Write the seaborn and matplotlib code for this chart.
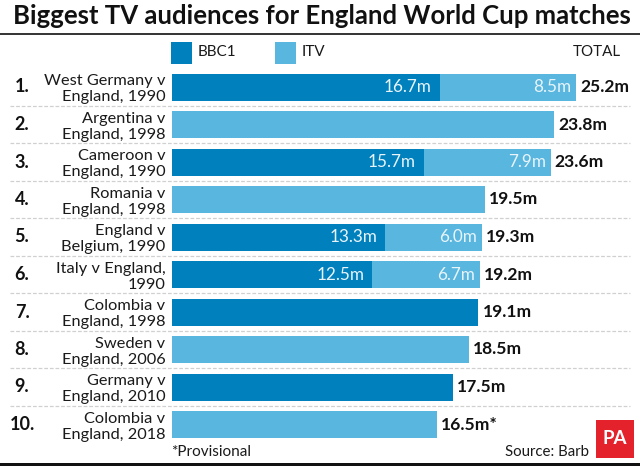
import matplotlib
matplotlib.use('Agg')
import matplotlib.pyplot as plt
import matplotlib.patches as mpatches
import matplotlib.transforms as mtrans
import pandas as pd
import seaborn as sns

matches = ['West Germany v\nEngland, 1990', 'Argentina v\nEngland, 1998',
           'Cameroon v\nEngland, 1990', 'Romania v\nEngland, 1998',
           'England v\nBelgium, 1990', 'Italy v England,\n1990',
           'Colombia v\nEngland, 1998', 'Sweden v\nEngland, 2006',
           'Germany v\nEngland, 2010', 'Colombia v\nEngland, 2018']
bbc1 = [16.7, 0, 15.7, 0, 13.3, 12.5, 19.1, 0, 17.5, 0]
itv = [8.5, 23.8, 7.9, 19.5, 6.0, 6.7, 0, 18.5, 0, 16.5]
totals = [25.2, 23.8, 23.6, 19.5, 19.3, 19.2, 19.1, 18.5, 17.5, 16.5]
total_notes = ['', '', '', '', '', '', '', '', '', '*']

BBC_COL = '#0080bc'
ITV_COL = '#58b6df'
W, H = 640, 466

sns.set_theme(style='white')
plt.rcParams['font.family'] = ['Lato', 'DejaVu Sans']


def fx(px):
    return px / W


def fy(px):
    return 1 - px / H


df = pd.DataFrame({'match': matches, 'bbc1': bbc1, 'itv': itv, 'total': totals})

fig = plt.figure(figsize=(W / 100, H / 100), dpi=100)
ax = fig.add_axes([fx(171.5), fy(443.25), 1 - fx(171.5), 375 / H])

# total bar in ITV colour, BBC1 share drawn over it
sns.barplot(data=df, y='match', x='total', color=ITV_COL, saturation=1, width=0.72,
            linewidth=0, ax=ax)
sns.barplot(data=df, y='match', x='bbc1', color=BBC_COL, saturation=1, width=0.72,
            linewidth=0, ax=ax)

ax.set_xlim(0, (W - 171.5) / 16.07)
ax.set_ylim(9.5, -0.5)
ax.set_xlabel('')
ax.set_ylabel('')
ax.set_xticks([])
sns.despine(ax=ax, left=True, bottom=True)
ax.tick_params(axis='y', length=0, pad=4.5)
for lab in ax.get_yticklabels():
    lab.set_fontsize(11.8)
    lab.set_linespacing(1.16)
    lab.set_color('#1a1a1a')

# dashed row separators
trans = mtrans.blended_transform_factory(fig.transFigure, ax.transData)
for i in range(len(matches) - 1):
    ax.plot([fx(10), fx(630)], [i + 0.5, i + 0.5], transform=trans, color='#d0d0d0',
            lw=0.9, ls=(0, (3, 1.5)), clip_on=False)

for i, (b, v, t, note) in enumerate(zip(bbc1, itv, totals, total_notes)):
    fig.text(fx(22), 0, f'{i + 1}.', fontsize=13, fontweight='bold', color='#111111',
             ha='center', va='center', transform=trans).set_y(i)
    ax.text(t + 0.25, i, f'{t:.1f}m{note}', fontsize=12.6, fontweight='bold', color='#111111',
            va='center', ha='left')
    if b and v:
        ax.text(b - 0.5, i, f'{b:.1f}m', fontsize=12.3, color='#e8f4fa', va='center', ha='right')
        ax.text(t - 0.3, i, f'{v:.1f}m', fontsize=12.3, color='#e8f4fa', va='center', ha='right')

# title and rules
fig.text(fx(13), fy(16), 'Biggest TV audiences for England World Cup matches',
         fontsize=18.55, fontweight='bold', color='#111111', ha='left', va='center')
fig.add_artist(plt.Line2D([0, 1], [fy(33.5), fy(33.5)], color='#111111', lw=1.2))
fig.add_artist(mpatches.Rectangle((0, 0), 1, 3 / H, transform=fig.transFigure,
                                  color='#111111', lw=0))

# legend
for x0, col, name in [(171, BBC_COL, 'BBC1'), (275, ITV_COL, 'ITV')]:
    fig.add_artist(mpatches.Rectangle((fx(x0), fy(63.5)), 21 / W, 21.5 / H,
                                      transform=fig.transFigure, color=col, lw=0))
    fig.text(fx(x0 + 27), fy(52.5), name, fontsize=11, color='#1a1a1a', ha='left', va='center')
fig.text(fx(621), fy(52.5), 'TOTAL', fontsize=10.9, color='#1a1a1a', ha='right', va='center')

# footer
fig.text(fx(171), fy(452.5), '*Provisional', fontsize=11, color='#1a1a1a', ha='left', va='center')
fig.text(fx(589), fy(452.5), 'Source: Barb', fontsize=10.8, color='#1a1a1a', ha='right', va='center')
fig.add_artist(mpatches.Rectangle((fx(596), fy(458)), 38 / W, 38 / H,
                                  transform=fig.transFigure, color='#e4222b', lw=0))
fig.text(fx(615), fy(439), 'PA', fontsize=13.5, fontweight='bold', color='white',
         ha='center', va='center')

fig.savefig('out.png', dpi=100)
